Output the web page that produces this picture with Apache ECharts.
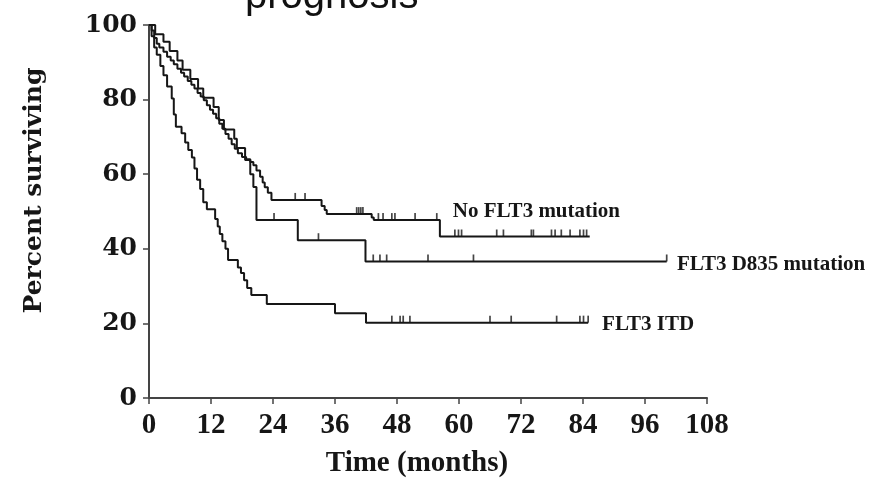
<!DOCTYPE html>
<html>
<head>
<meta charset="utf-8">
<script src="https://cdn.jsdelivr.net/npm/echarts@6/dist/echarts.min.js"></script>
<style>
  html, body { margin: 0; padding: 0; background: #fff; }
  #chart { width: 870px; height: 496px; }
</style>
</head>
<body>
<div id="chart"></div>
<script>
// Kaplan-Meier survival estimates (time in months, percent surviving)
const noFlt3Times = [0,0.5,1,1.5,2,2.8,3.5,4.2,4.8,5.5,6.2,6.8,7.5,8.2,8.8,9.4,10,10.6,11.2,11.8,12.4,13,13.6,14.2,14.8,15.4,16,16.6,17.2,18,18.8,19.6,20.2,20.8,21.5,22,22.4,23,23.7,33.4,34,34.4,43.1,43.5,56.3,85.3];
const noFlt3Surv  = [100,98.5,96.5,95,94,92.8,91.5,90.5,89.5,88.3,87.2,86.2,85,84,83,81.8,80.8,79.8,78.5,77.3,76.2,75,73.5,72.2,70.8,69.5,68,66.8,65.6,64.6,64,63.3,62.4,61,59.3,57.8,56.5,55,53.1,51.5,50.4,49.3,48.4,47.7,43.3,43.3];
const noFlt3Censored = [28.3,30.2,40.2,40.6,41.0,41.4,44.4,45.3,47.0,47.6,51.5,55.7,59.2,59.9,60.5,67.3,68.6,74,74.4,77.9,78.6,79.8,81.5,83.4,84.1,84.7];

const d835Times = [0,1.2,2.8,4,5.5,6.5,8,9.5,10.5,12.5,13.5,14.5,16.5,17,18.6,19.6,20.2,20.8,28.8,41.9,100.2];
const d835Surv  = [100,97.5,95.5,93,90.5,88,85.5,83,80.5,78,74.5,72,69.5,67,63.8,60,56.6,47.7,42.3,36.6,36.6];
const d835Censored = [24.2,32.8,43.4,44.7,46.0,54.0,62.8,100.2];

const itdTimes = [0,0.5,1,1.5,2.2,2.8,3.5,4.4,4.8,5.2,6.3,7,7.6,8.3,8.8,9.3,9.9,10.5,11.2,12.8,13.3,13.7,14.2,14.8,15.3,17.2,17.8,18.4,19,19.8,22.8,36,42,85];
const itdSurv  = [100,97,94,92,89,86.5,83.5,80.3,76,72.7,71,68.5,66.5,64.5,61.5,58.5,56,52.5,50.6,48,46,44,42,40,37,35,33.5,31.6,29.5,27.6,25.2,22.7,20.2,20.2];
const itdCensored = [47,48.6,49.2,50.5,66,70.1,78.9,83.4,84.1,85];

const groupNames = ['No FLT3 mutation', 'FLT3 D835 mutation', 'FLT3 ITD'];
const xTicks = [0,12,24,36,48,60,72,84,96,108];
const yTicks = [0,20,40,60,80,100];
const titleText = 'prognosis';

const INK = '#161616';

function pairs(ts, ss) { return ts.map((t, i) => [t, ss[i]]); }
// survival level in effect at time t (right-continuous step function)
function levelAt(ts, ss, t) {
  let v = ss[0];
  for (let i = 0; i < ts.length; i++) { if (ts[i] <= t) v = ss[i]; }
  return v;
}
function censorPoints(ts, ss, cs) { return cs.map(t => [t, levelAt(ts, ss, t)]); }

function stepSeries(name, ts, ss, labelCoord) {
  return {
    name: name, type: 'line', step: 'end', data: pairs(ts, ss),
    showSymbol: false, symbol: 'none', silent: true,
    lineStyle: { color: INK, width: 2 },
    markPoint: {
      symbol: 'circle', symbolSize: 0, silent: true,
      data: [{ coord: labelCoord, value: name }],
      label: {
        show: true, position: 'right', distance: 0, formatter: name,
        fontFamily: 'Liberation Serif', fontWeight: 'bold', fontSize: 21, color: INK
      }
    }
  };
}
function censorSeries(ts, ss, cs) {
  return {
    type: 'scatter', data: censorPoints(ts, ss, cs), silent: true,
    symbol: 'rect', symbolSize: [1.7, 7], symbolOffset: [0, -3.5],
    itemStyle: { color: INK }
  };
}

const chart = echarts.init(document.getElementById('chart'), null, { renderer: 'canvas' });
chart.setOption({
  animation: false,
  backgroundColor: '#fff',
  grid: { left: 149, right: 163, top: 25, bottom: 98, containLabel: false },
  graphic: [{
    type: 'text', left: 245, top: -23,
    style: { text: titleText, fontFamily: 'Liberation Sans', fontSize: 40, fill: '#111' }
  }],
  xAxis: {
    type: 'value', min: 0, max: 108, interval: 12,
    name: 'Time (months)', nameLocation: 'middle', nameGap: 51,
    nameTextStyle: { fontFamily: 'Liberation Serif', fontWeight: 'bold', fontSize: 29, color: INK, padding: [0, 22, 0, 0] },
    axisLine: { lineStyle: { color: '#444', width: 2 } },
    axisTick: { show: true, length: 6, lineStyle: { color: '#444', width: 1.5 } },
    axisLabel: {
      margin: 13, fontFamily: 'Liberation Serif', fontWeight: 'bold', fontSize: 29, color: INK,
      formatter: v => xTicks.includes(v) ? String(v) : ''
    },
    splitLine: { show: false }
  },
  yAxis: {
    type: 'value', min: 0, max: 100, interval: 20,
    name: 'Percent surviving', nameLocation: 'middle', nameGap: 102, nameRotate: 90,
    nameTextStyle: { fontFamily: 'DejaVu Serif', fontWeight: 'bold', fontSize: 25, color: INK, padding: [0, 0, 0, 42] },
    axisLine: { show: true, lineStyle: { color: '#444', width: 2 } },
    axisTick: { show: true, length: 6, lineStyle: { color: '#444', width: 1.5 } },
    axisLabel: {
      margin: 12, fontFamily: 'DejaVu Serif', fontWeight: 'bold', fontSize: 25, color: INK,
      formatter: v => yTicks.includes(v) ? String(v) : ''
    },
    splitLine: { show: false }
  },
  series: [
    stepSeries(groupNames[0], noFlt3Times, noFlt3Surv, [58.8, 50]),
    stepSeries(groupNames[1], d835Times, d835Surv, [102.2, 35.7]),
    stepSeries(groupNames[2], itdTimes, itdSurv, [87.7, 19.6]),
    censorSeries(noFlt3Times, noFlt3Surv, noFlt3Censored),
    censorSeries(d835Times, d835Surv, d835Censored),
    censorSeries(itdTimes, itdSurv, itdCensored)
  ]
});
</script>
</body>
</html>
